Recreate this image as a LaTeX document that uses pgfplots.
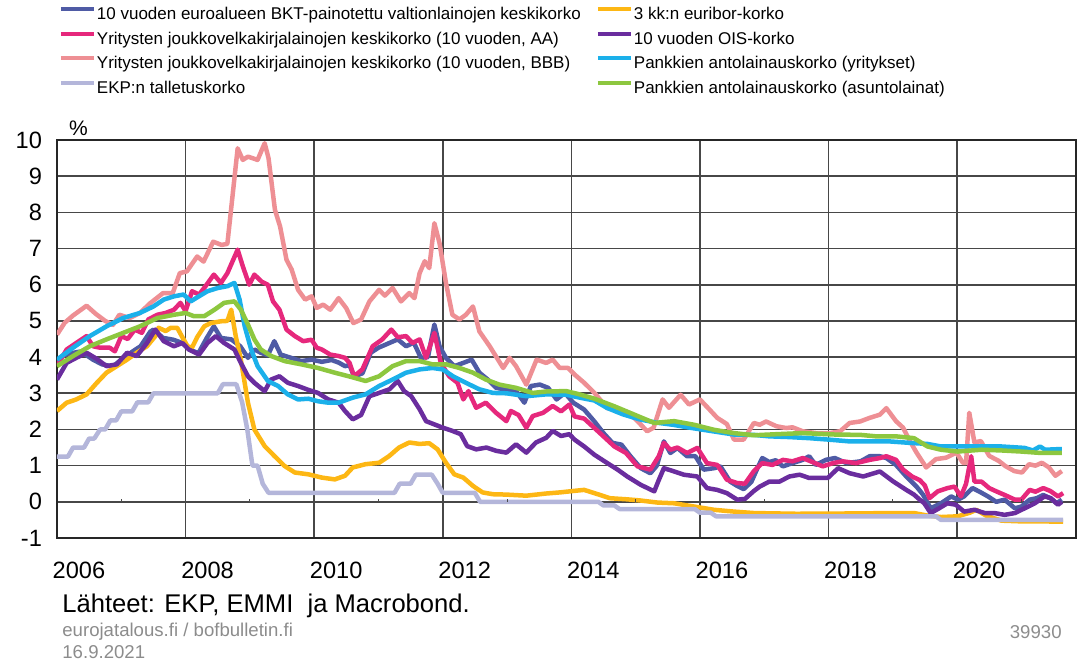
\documentclass[border=0pt]{standalone}
\usepackage{fontspec}
\setmainfont{Liberation Sans}
\usepackage{pgfplots}
\pgfplotsset{compat=1.18}
\definecolor{cBKT}{HTML}{4F5BA5}
\definecolor{cAA}{HTML}{E6287C}
\definecolor{cBBB}{HTML}{EE8F94}
\definecolor{cEKP}{HTML}{B4B6DA}
\definecolor{cEUR}{HTML}{FDB714}
\definecolor{cOIS}{HTML}{6A2D9E}
\definecolor{cYRI}{HTML}{1BB0EA}
\definecolor{cASU}{HTML}{8DC73F}
\newcommand{\legtxt}[1]{\makebox[249pt][l]{#1}}
\begin{document}
\begin{tikzpicture}
\path[use as bounding box] (0,0) rectangle (539pt,-330.5pt);
\begin{axis}[
  at={(28.5pt,-269pt)}, anchor=south west,
  scale only axis, width=509.5pt, height=199pt,
  xmin=2006, xmax=2021.85, ymin=-1, ymax=10,
  xtick={2006,2008,2010,2012,2014,2016,2018,2020},
  xticklabels={2006,2008,2010,2012,2014,2016,2018,2020},
  ytick={-1,0,1,2,3,4,5,6,7,8,9,10},
  yticklabels={-1,0,1,2,3,4,5,6,7,8,9,10},
  /pgf/number format/assume math mode=true,
  xticklabel style={font=\fontsize{11.8}{12}\selectfont, xshift=11pt, yshift=-8.5pt},
  yticklabel style={font=\fontsize{11.8}{12}\selectfont, xshift=-4pt},
  grid=major, major grid style={black!72, line width=0.8pt},
  major tick length=0pt,
  axis line style={black!85, line width=1pt},
  legend style={at={(0.0019,1.3374)}, anchor=north west, draw=none, fill=none,
    inner sep=0pt, outer sep=0pt, font=\fontsize{8.5}{10}\selectfont, row sep=2.95pt,
    nodes={inner sep=0.5pt, text height=6.5pt, text depth=1.8pt}},
  legend columns=2,
  legend cell align=left,
  legend image code/.code={\draw[#1, line width=2pt] (0pt,2.9pt) -- (16.5pt,2.9pt);},
  every axis plot/.append style={line width=2.25pt, line join=round, mark=none},
]
% 1 BKT
\addplot[cBKT] coordinates {(2006.0,3.9)(2006.1,4.05)(2006.2,4.1)(2006.35,4.15)(2006.46,4.05)(2006.56,3.93)(2006.7,3.8)(2006.87,3.74)(2007.0,3.93)(2007.18,4.16)(2007.3,4.3)(2007.45,4.7)(2007.5,4.76)(2007.65,4.53)(2007.81,4.48)(2007.95,4.39)(2008.07,4.2)(2008.2,4.11)(2008.33,4.53)(2008.44,4.85)(2008.55,4.53)(2008.71,4.49)(2008.85,4.3)(2008.97,3.98)(2009.07,4.21)(2009.17,4.12)(2009.28,4.05)(2009.38,4.44)(2009.48,4.07)(2009.64,3.98)(2009.8,3.89)(2009.96,3.93)(2010.12,3.87)(2010.27,3.92)(2010.38,3.85)(2010.48,3.75)(2010.55,3.78)(2010.62,3.47)(2010.75,3.55)(2010.88,4.12)(2011.0,4.26)(2011.17,4.39)(2011.3,4.49)(2011.43,4.3)(2011.55,4.4)(2011.66,3.98)(2011.77,4.0)(2011.87,4.9)(2011.95,4.3)(2012.05,3.98)(2012.18,3.75)(2012.32,3.84)(2012.45,3.93)(2012.57,3.57)(2012.7,3.38)(2012.83,3.15)(2012.99,3.1)(2013.14,3.06)(2013.27,2.74)(2013.37,3.2)(2013.51,3.24)(2013.64,3.15)(2013.77,2.83)(2013.9,3.01)(2014.03,2.74)(2014.2,2.55)(2014.36,2.22)(2014.5,1.9)(2014.64,1.63)(2014.78,1.58)(2014.92,1.26)(2015.08,0.93)(2015.23,0.79)(2015.33,1.0)(2015.44,1.67)(2015.54,1.35)(2015.65,1.49)(2015.8,1.26)(2015.93,1.26)(2016.06,0.89)(2016.22,0.93)(2016.32,0.98)(2016.47,0.56)(2016.57,0.45)(2016.68,0.35)(2016.8,0.55)(2016.9,0.95)(2016.97,1.21)(2017.08,1.1)(2017.18,1.15)(2017.29,0.98)(2017.44,1.07)(2017.6,1.16)(2017.7,1.26)(2017.8,1.02)(2017.96,1.16)(2018.1,1.21)(2018.28,1.07)(2018.5,1.12)(2018.64,1.26)(2018.8,1.26)(2018.9,1.21)(2019.05,1.02)(2019.21,0.7)(2019.37,0.42)(2019.47,0.2)(2019.59,-0.18)(2019.75,-0.04)(2019.91,0.15)(2020.01,0.06)(2020.11,0.15)(2020.24,0.38)(2020.35,0.28)(2020.48,0.15)(2020.61,0.0)(2020.74,0.06)(2020.9,-0.18)(2021.0,-0.13)(2021.13,0.06)(2021.24,0.1)(2021.34,0.19)(2021.45,0.1)(2021.55,-0.04)(2021.63,0.06)};
\addlegendentry{\legtxt{10 vuoden euroalueen BKT-painotettu valtionlainojen keskikorko}}
% 2 Euribor
\addplot[cEUR] coordinates {(2006.0,2.51)(2006.15,2.74)(2006.3,2.83)(2006.46,2.97)(2006.62,3.29)(2006.77,3.57)(2006.93,3.75)(2007.09,3.93)(2007.24,4.12)(2007.4,4.3)(2007.53,4.58)(2007.58,4.81)(2007.69,4.72)(2007.77,4.81)(2007.87,4.81)(2007.95,4.55)(2008.03,4.3)(2008.1,4.26)(2008.18,4.55)(2008.29,4.85)(2008.39,4.94)(2008.55,4.99)(2008.65,5.0)(2008.71,5.31)(2008.78,4.58)(2008.86,3.93)(2008.97,2.74)(2009.07,2.0)(2009.23,1.54)(2009.38,1.27)(2009.54,0.99)(2009.7,0.81)(2009.91,0.76)(2010.12,0.67)(2010.32,0.62)(2010.48,0.72)(2010.6,0.95)(2010.8,1.04)(2011.01,1.08)(2011.17,1.27)(2011.32,1.5)(2011.48,1.64)(2011.64,1.6)(2011.79,1.62)(2011.92,1.45)(2012.05,1.08)(2012.18,0.76)(2012.32,0.67)(2012.47,0.44)(2012.62,0.26)(2012.78,0.21)(2012.99,0.2)(2013.3,0.17)(2013.61,0.23)(2013.82,0.26)(2014.03,0.3)(2014.2,0.33)(2014.43,0.2)(2014.6,0.1)(2014.86,0.07)(2015.06,0.04)(2015.34,-0.02)(2015.6,-0.04)(2015.91,-0.13)(2016.22,-0.22)(2016.53,-0.27)(2016.84,-0.31)(2017.5,-0.33)(2018.5,-0.32)(2018.95,-0.31)(2019.33,-0.31)(2019.54,-0.38)(2019.75,-0.42)(2020.01,-0.4)(2020.2,-0.3)(2020.3,-0.22)(2020.45,-0.38)(2020.69,-0.52)(2021.0,-0.54)(2021.31,-0.54)(2021.65,-0.55)};
\addlegendentry{3 kk:n euribor-korko}
% 3 AA
\addplot[cAA] coordinates {(2006.0,3.75)(2006.15,4.21)(2006.3,4.39)(2006.46,4.58)(2006.56,4.3)(2006.67,4.26)(2006.82,4.26)(2006.9,4.16)(2007.0,4.58)(2007.1,4.5)(2007.21,4.76)(2007.32,4.67)(2007.42,5.04)(2007.56,5.17)(2007.69,5.22)(2007.82,5.31)(2007.92,5.5)(2008.0,5.27)(2008.1,5.82)(2008.21,5.73)(2008.31,5.96)(2008.44,6.28)(2008.55,6.05)(2008.65,6.32)(2008.81,6.97)(2008.89,6.51)(2008.99,6.0)(2009.07,6.28)(2009.18,6.09)(2009.28,6.0)(2009.36,5.54)(2009.46,5.31)(2009.57,4.76)(2009.7,4.58)(2009.83,4.44)(2009.96,4.48)(2010.04,4.26)(2010.12,4.21)(2010.25,4.07)(2010.38,4.03)(2010.48,3.98)(2010.55,3.84)(2010.62,3.47)(2010.75,3.66)(2010.91,4.3)(2011.06,4.49)(2011.2,4.76)(2011.3,4.55)(2011.43,4.58)(2011.53,4.39)(2011.64,4.49)(2011.74,3.98)(2011.87,4.67)(2011.97,3.84)(2012.1,3.47)(2012.23,3.29)(2012.32,2.83)(2012.4,3.06)(2012.52,2.6)(2012.67,2.74)(2012.83,2.46)(2012.99,2.23)(2013.06,2.51)(2013.18,2.4)(2013.3,2.05)(2013.4,2.37)(2013.56,2.46)(2013.71,2.65)(2013.84,2.5)(2013.97,2.69)(2014.05,2.36)(2014.2,2.3)(2014.36,2.04)(2014.5,1.81)(2014.67,1.53)(2014.85,1.35)(2015.03,0.98)(2015.23,0.89)(2015.36,1.26)(2015.44,1.63)(2015.54,1.44)(2015.65,1.5)(2015.8,1.35)(2015.96,1.49)(2016.11,1.07)(2016.27,1.02)(2016.42,0.61)(2016.58,0.52)(2016.7,0.5)(2016.84,0.85)(2016.97,1.07)(2017.13,1.02)(2017.29,1.16)(2017.44,1.12)(2017.6,1.21)(2017.75,1.1)(2017.91,0.98)(2018.07,1.07)(2018.22,1.12)(2018.43,1.07)(2018.64,1.16)(2018.8,1.21)(2018.9,1.26)(2019.05,1.16)(2019.16,0.89)(2019.3,0.7)(2019.42,0.6)(2019.5,0.45)(2019.57,0.1)(2019.7,0.29)(2019.85,0.38)(2019.96,0.42)(2020.06,0.15)(2020.14,0.5)(2020.22,1.26)(2020.27,0.56)(2020.38,0.56)(2020.5,0.38)(2020.61,0.29)(2020.74,0.19)(2020.9,0.06)(2021.0,0.06)(2021.13,0.33)(2021.22,0.28)(2021.34,0.38)(2021.45,0.3)(2021.57,0.15)(2021.65,0.24)};
\addlegendentry{\legtxt{Yritysten joukkovelkakirjalainojen keskikorko (10 vuoden, AA)}}
% 4 OIS
\addplot[cOIS] coordinates {(2006.0,3.38)(2006.15,3.84)(2006.3,3.98)(2006.46,4.12)(2006.62,3.95)(2006.77,3.75)(2006.93,3.8)(2007.09,4.12)(2007.24,4.03)(2007.4,4.39)(2007.53,4.76)(2007.66,4.44)(2007.82,4.3)(2007.95,4.39)(2008.05,4.21)(2008.21,4.07)(2008.34,4.39)(2008.47,4.58)(2008.6,4.39)(2008.76,4.21)(2008.86,3.84)(2008.97,3.47)(2009.07,3.29)(2009.23,3.06)(2009.33,3.38)(2009.46,3.47)(2009.59,3.29)(2009.75,3.2)(2009.9,3.1)(2010.06,3.01)(2010.22,2.83)(2010.38,2.74)(2010.48,2.51)(2010.6,2.28)(2010.73,2.4)(2010.86,2.92)(2011.01,3.01)(2011.17,3.11)(2011.3,3.34)(2011.4,3.06)(2011.51,2.92)(2011.64,2.56)(2011.74,2.23)(2011.87,2.14)(2012.0,2.05)(2012.15,1.96)(2012.28,1.87)(2012.38,1.54)(2012.52,1.45)(2012.68,1.5)(2012.83,1.41)(2012.99,1.36)(2013.14,1.59)(2013.3,1.36)(2013.45,1.64)(2013.61,1.77)(2013.71,1.96)(2013.84,1.82)(2013.97,1.87)(2014.05,1.72)(2014.2,1.53)(2014.36,1.3)(2014.56,1.07)(2014.72,0.89)(2014.87,0.7)(2015.08,0.47)(2015.29,0.29)(2015.36,0.6)(2015.44,0.93)(2015.6,0.84)(2015.75,0.75)(2015.96,0.7)(2016.11,0.38)(2016.27,0.33)(2016.42,0.24)(2016.58,0.06)(2016.7,0.08)(2016.84,0.3)(2016.93,0.42)(2017.08,0.56)(2017.24,0.56)(2017.39,0.7)(2017.55,0.75)(2017.7,0.66)(2017.86,0.66)(2017.99,0.66)(2018.15,0.93)(2018.33,0.79)(2018.54,0.7)(2018.8,0.84)(2019.01,0.56)(2019.21,0.33)(2019.33,0.2)(2019.42,0.06)(2019.49,-0.04)(2019.59,-0.31)(2019.72,-0.18)(2019.85,-0.04)(2019.98,-0.08)(2020.11,-0.27)(2020.27,-0.22)(2020.43,-0.31)(2020.58,-0.31)(2020.74,-0.36)(2020.9,-0.31)(2021.05,-0.18)(2021.21,-0.04)(2021.36,0.15)(2021.46,0.1)(2021.57,-0.08)(2021.63,0.0)};
\addlegendentry{10 vuoden OIS-korko}
% 5 BBB
\addplot[cBBB] coordinates {(2006.0,4.62)(2006.12,4.95)(2006.25,5.15)(2006.46,5.42)(2006.6,5.2)(2006.75,5.0)(2006.87,4.89)(2006.97,5.17)(2007.13,5.08)(2007.29,5.22)(2007.45,5.49)(2007.65,5.77)(2007.8,5.77)(2007.91,6.32)(2008.02,6.37)(2008.18,6.78)(2008.28,6.64)(2008.43,7.19)(2008.56,7.1)(2008.65,7.13)(2008.81,9.77)(2008.89,9.45)(2008.97,9.54)(2009.12,9.45)(2009.23,9.91)(2009.29,9.5)(2009.39,8.07)(2009.47,7.61)(2009.57,6.69)(2009.65,6.42)(2009.75,5.86)(2009.86,5.59)(2009.96,5.68)(2010.04,5.36)(2010.14,5.45)(2010.25,5.31)(2010.38,5.63)(2010.5,5.35)(2010.61,4.94)(2010.73,5.04)(2010.86,5.54)(2011.01,5.86)(2011.1,5.7)(2011.22,5.91)(2011.35,5.54)(2011.48,5.77)(2011.56,5.63)(2011.64,6.32)(2011.72,6.65)(2011.79,6.46)(2011.87,7.7)(2011.95,7.15)(2012.05,6.05)(2012.15,5.17)(2012.26,5.04)(2012.36,5.17)(2012.47,5.4)(2012.57,4.71)(2012.73,4.3)(2012.94,3.7)(2013.04,3.98)(2013.14,3.75)(2013.3,3.24)(2013.46,3.93)(2013.61,3.84)(2013.71,3.93)(2013.82,3.7)(2013.95,3.7)(2014.05,3.52)(2014.2,3.29)(2014.36,3.01)(2014.56,2.59)(2014.77,2.5)(2014.98,2.32)(2015.18,1.95)(2015.28,2.05)(2015.42,2.83)(2015.52,2.6)(2015.7,2.96)(2015.83,2.69)(2016.0,2.83)(2016.15,2.55)(2016.27,2.32)(2016.42,2.15)(2016.53,1.72)(2016.68,1.72)(2016.84,2.18)(2016.93,2.13)(2017.03,2.22)(2017.19,2.09)(2017.34,2.04)(2017.44,2.06)(2017.6,1.95)(2017.81,1.9)(2018.02,1.9)(2018.18,1.95)(2018.33,2.18)(2018.49,2.22)(2018.64,2.32)(2018.8,2.41)(2018.9,2.59)(2019.05,2.23)(2019.16,2.05)(2019.26,1.7)(2019.37,1.36)(2019.52,0.95)(2019.67,1.18)(2019.83,1.22)(2019.99,1.36)(2020.09,1.08)(2020.14,1.08)(2020.19,2.46)(2020.27,1.64)(2020.37,1.68)(2020.5,1.27)(2020.65,1.13)(2020.75,0.99)(2020.89,0.85)(2021.01,0.81)(2021.12,1.04)(2021.22,1.0)(2021.32,1.08)(2021.43,0.95)(2021.53,0.72)(2021.63,0.85)};
\addlegendentry{\legtxt{Yritysten joukkovelkakirjalainojen keskikorko (10 vuoden, BBB)}}
% 6 Pankki yritykset
\addplot[cYRI] coordinates {(2006.0,3.93)(2006.25,4.26)(2006.51,4.58)(2006.77,4.85)(2007.03,5.08)(2007.29,5.22)(2007.5,5.4)(2007.66,5.59)(2007.82,5.68)(2007.97,5.73)(2008.08,5.54)(2008.18,5.65)(2008.34,5.82)(2008.5,5.91)(2008.65,5.96)(2008.76,6.05)(2008.84,5.59)(2008.92,4.85)(2009.02,4.21)(2009.12,3.75)(2009.28,3.34)(2009.44,3.2)(2009.59,2.97)(2009.75,2.83)(2009.91,2.85)(2010.06,2.78)(2010.22,2.74)(2010.38,2.74)(2010.6,2.88)(2010.8,2.97)(2011.01,3.2)(2011.22,3.38)(2011.43,3.57)(2011.64,3.66)(2011.84,3.7)(2012.0,3.66)(2012.16,3.47)(2012.36,3.29)(2012.57,3.11)(2012.78,3.01)(2012.99,3.0)(2013.3,2.92)(2013.61,2.97)(2013.92,2.96)(2014.13,2.88)(2014.36,2.8)(2014.55,2.6)(2014.8,2.42)(2015.06,2.28)(2015.32,2.19)(2015.58,2.13)(2015.84,2.05)(2016.2,1.95)(2016.53,1.86)(2016.84,1.85)(2017.08,1.81)(2017.39,1.79)(2017.7,1.76)(2018.0,1.72)(2018.33,1.67)(2018.64,1.67)(2018.95,1.67)(2019.26,1.63)(2019.54,1.6)(2019.75,1.53)(2020.01,1.53)(2020.38,1.53)(2020.69,1.53)(2021.05,1.49)(2021.18,1.42)(2021.29,1.53)(2021.37,1.44)(2021.5,1.45)(2021.63,1.46)};
\addlegendentry{Pankkien antolainauskorko (yritykset)}
% 7 EKP
\addplot[cEKP] coordinates {(2006.0,1.25)(2006.17,1.25)(2006.25,1.5)(2006.42,1.5)(2006.5,1.75)(2006.58,1.75)(2006.67,2.0)(2006.75,2.0)(2006.83,2.25)(2006.92,2.25)(2007.0,2.5)(2007.17,2.5)(2007.25,2.75)(2007.42,2.75)(2007.5,3.0)(2008.5,3.0)(2008.58,3.25)(2008.79,3.25)(2008.88,2.75)(2008.96,2.0)(2009.04,1.0)(2009.12,1.0)(2009.2,0.5)(2009.29,0.25)(2011.25,0.25)(2011.33,0.5)(2011.5,0.5)(2011.58,0.75)(2011.83,0.75)(2011.92,0.5)(2012.0,0.25)(2012.5,0.25)(2012.58,0.0)(2014.42,0.0)(2014.5,-0.1)(2014.67,-0.1)(2014.75,-0.2)(2015.92,-0.2)(2016.0,-0.3)(2016.17,-0.3)(2016.25,-0.4)(2019.67,-0.4)(2019.75,-0.5)(2021.65,-0.5)};
\addlegendentry{\legtxt{EKP:n talletuskorko}}
% 8 Pankki asuntolainat
\addplot[cASU] coordinates {(2006.0,3.75)(2006.25,4.03)(2006.51,4.3)(2006.77,4.49)(2007.03,4.67)(2007.29,4.85)(2007.56,5.08)(2007.82,5.17)(2008.0,5.22)(2008.13,5.13)(2008.29,5.13)(2008.45,5.31)(2008.6,5.5)(2008.76,5.54)(2008.86,5.31)(2008.97,4.9)(2009.07,4.49)(2009.17,4.21)(2009.33,4.03)(2009.54,3.89)(2009.8,3.8)(2010.06,3.7)(2010.32,3.57)(2010.58,3.45)(2010.8,3.34)(2011.01,3.47)(2011.22,3.75)(2011.43,3.89)(2011.64,3.89)(2011.84,3.8)(2012.05,3.8)(2012.26,3.7)(2012.47,3.57)(2012.67,3.38)(2012.88,3.24)(2013.14,3.15)(2013.4,3.01)(2013.61,3.05)(2013.92,3.06)(2014.13,2.97)(2014.36,2.85)(2014.67,2.64)(2014.98,2.41)(2015.29,2.18)(2015.6,2.23)(2015.91,2.13)(2016.22,1.99)(2016.53,1.9)(2016.84,1.84)(2017.2,1.87)(2017.6,1.9)(2018.1,1.86)(2018.5,1.85)(2018.74,1.81)(2019.05,1.81)(2019.33,1.76)(2019.54,1.53)(2019.75,1.44)(2020.01,1.39)(2020.38,1.44)(2020.69,1.42)(2021.0,1.39)(2021.31,1.35)(2021.63,1.35)};
\addlegendentry{Pankkien antolainauskorko (asuntolainat)}
\draw[black!70, line width=0.5pt] (axis cs:2007,0) -- (axis cs:2007,0.09);
\draw[black!70, line width=0.5pt] (axis cs:2009,0) -- (axis cs:2009,0.09);
\draw[black!70, line width=0.5pt] (axis cs:2011,0) -- (axis cs:2011,0.09);
\draw[black!70, line width=0.5pt] (axis cs:2013,0) -- (axis cs:2013,0.09);
\draw[black!70, line width=0.5pt] (axis cs:2015,0) -- (axis cs:2015,0.09);
\draw[black!70, line width=0.5pt] (axis cs:2017,0) -- (axis cs:2017,0.09);
\draw[black!70, line width=0.5pt] (axis cs:2019,0) -- (axis cs:2019,0.09);
\draw[black!70, line width=0.5pt] (axis cs:2021,0) -- (axis cs:2021,0.09);
\end{axis}
\node[anchor=base west, font=\fontsize{10.5}{12}\selectfont] at (31pt,-67.5pt) {\%};
\node[anchor=west, font=\fontsize{12.8}{14}\selectfont, inner sep=0pt] at (31pt,-303pt) {Lähteet: EKP, EMMI\ \ ja Macrobond.};
\node[anchor=west, font=\fontsize{9.3}{11}\selectfont, text=black!45, inner sep=0pt] at (31pt,-316pt) {eurojatalous.fi / bofbulletin.fi};
\node[anchor=west, font=\fontsize{9.3}{11}\selectfont, text=black!45, inner sep=0pt] at (31pt,-326pt) {16.9.2021};
\node[anchor=east, font=\fontsize{9.3}{11}\selectfont, text=black!45, inner sep=0pt] at (531pt,-316pt) {39930};
\end{tikzpicture}
\end{document}
